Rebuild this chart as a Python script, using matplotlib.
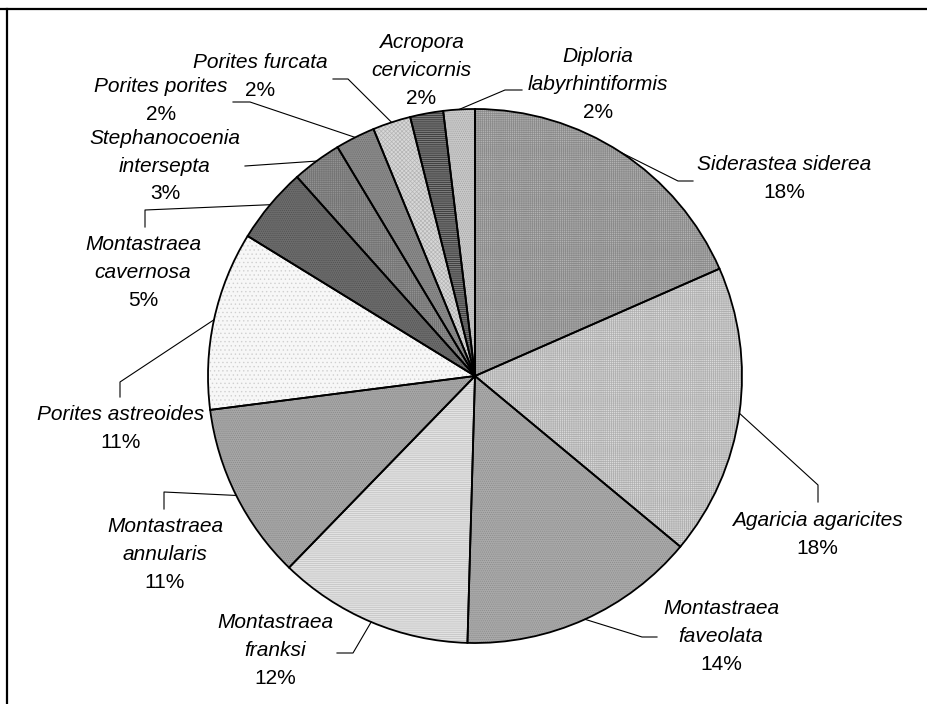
import matplotlib
matplotlib.use('Agg')
import matplotlib.pyplot as plt
import numpy as np

# coral species cover (share of total, %)
species = ["Siderastea siderea", "Agaricia agaricites", "Montastraea\nfaveolata",
           "Montastraea\nfranksi", "Montastraea\nannularis", "Porites astreoides",
           "Montastraea\ncavernosa", "Stephanocoenia\nintersepta", "Porites porites",
           "Porites furcata", "Acropora\ncervicornis", "Diploria\nlabyrhintiformis"]
shares = [18.4, 17.6, 14.4, 11.8, 10.7, 10.8, 4.6, 3.0, 2.4, 2.3, 2.0, 1.9]

# grey fills + fine textures standing in for the excel patterns
fills = ['#b2b2b2', '#dadada', '#a9a9a9', '#e2e2e2', '#a6a6a6', '#f7f7f7',
         '#6c6c6c', '#929292', '#8a8a8a', '#d8d8d8', '#7a7a7a', '#c8c8c8']
hatches = ['++++++++', '++++++++', '........', '--------', '........', '....',
           '........', '++++++++', '........', 'xxxxxxxx', '--------', '........']
hatch_cols = ['#8a8a8a', '#b0b0b0', '#8c8c8c', '#c0c0c0', '#8a8a8a', '#d0d0d0',
              '#505050', '#747474', '#6c6c6c', '#b4b4b4', '#2a2a2a', '#a4a4a4']

# label layout in pixels: centre x, first line y, leader elbow, leader end
lab_x = [784, 817, 721, 275, 165, 121, 143, 165, 161, 260, 421, 598]
lab_y = [165, 520, 608, 623, 527, 415, 245, 138, 87, 63, 42, 57]
elbow = [(678, 181), (818, 485), (642, 637), (353, 653), (164, 492), (120, 382),
         (145, 210), (245, 166), (250, 102), (348, 79), None, (505, 90)]
lend = [(693, 181), (818, 502), (657, 637), (337, 653), (164, 509), (120, 397),
        (145, 227), (245, 166), (233, 102), (333, 79), None, (522, 90)]

W, H = 928, 704
plt.rcParams['hatch.linewidth'] = 0.5

fig = plt.figure(figsize=(W / 100, H / 100), dpi=100)
ax = fig.add_axes([0, 0, 1, 1])

cx, cy, r = 475, H - 376, 267

# textured fill layer
fill_w, _ = ax.pie(shares, startangle=90, counterclock=False, center=(cx, cy),
                   radius=r, colors=fills, wedgeprops=dict(linewidth=0))
for w, h, hc in zip(fill_w, hatches, hatch_cols):
    w.set_hatch(h)
    w.set_edgecolor(hc)
    w.set_linewidth(0)

# black outlines on top
wedges, _ = ax.pie(shares, startangle=90, counterclock=False, center=(cx, cy),
                   radius=r, colors=['none'] * len(shares),
                   wedgeprops=dict(edgecolor='black', linewidth=1.3))

font = 'Liberation Sans'
step = 28
for i, w in enumerate(wedges):
    mid = np.deg2rad((w.theta1 + w.theta2) / 2)
    ex, ey = cx + r * np.cos(mid), cy + r * np.sin(mid)
    if elbow[i] is not None:
        xs = [ex, elbow[i][0], lend[i][0]]
        ys = [ey, H - elbow[i][1], H - lend[i][1]]
        ax.plot(xs, ys, color='black', lw=0.8, zorder=1)

    lines = species[i].split('\n')
    for j, t in enumerate(lines):
        ax.text(lab_x[i], H - (lab_y[i] + step * j), t, ha='center', va='center',
                fontsize=15, style='italic', family=font)
    pct = f"{shares[i]:.0f}%"
    ax.text(lab_x[i], H - (lab_y[i] + step * len(lines)), pct, ha='center',
            va='center', fontsize=15, family=font)

# chart-area frame (only top and left edges fall inside the image)
ax.plot([0, W], [H - 9, H - 9], color='black', lw=1.6)
ax.plot([7, 7], [0, H - 9], color='black', lw=1.6)

ax.set_xlim(0, W)
ax.set_ylim(0, H)
ax.set_aspect('equal')
ax.axis('off')

fig.savefig('out.png', dpi=100)
